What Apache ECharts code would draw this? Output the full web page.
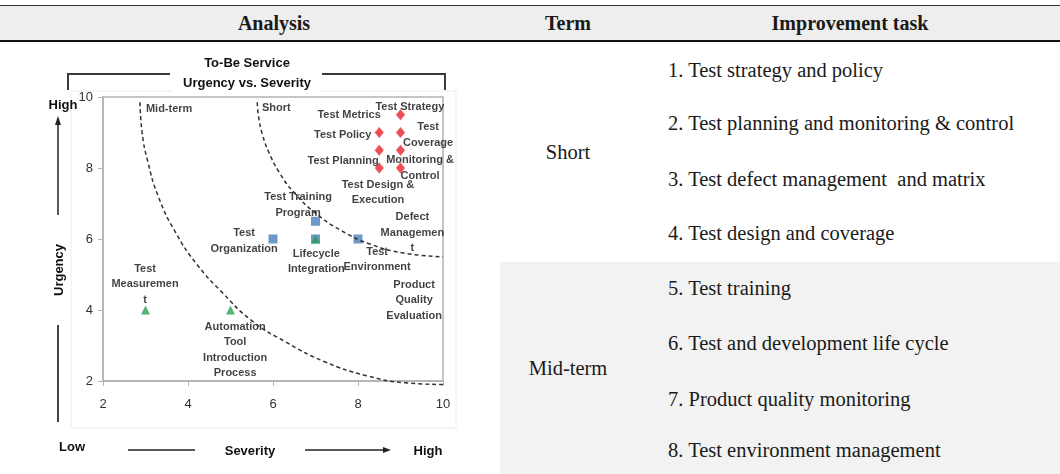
<!DOCTYPE html>
<html>
<head>
<meta charset="utf-8">
<script src="https://cdn.jsdelivr.net/npm/echarts@6/dist/echarts.min.js"></script>
<style>
  body { margin: 0; width: 1060px; height: 474px; position: relative; overflow: hidden; background: #fff; font-family: "Liberation Serif", serif; color: #1a1a1a; }
  .head { position: absolute; left: 0; top: 5px; width: 1060px; height: 34px; background: #eeeeee; border-top: 1px solid #333; border-bottom: 2px solid #111; }
  .head span { position: absolute; top: 0; line-height: 34px; font-weight: bold; font-size: 20px; transform: translateX(-50%); white-space: nowrap; }
  .band { position: absolute; left: 500px; top: 262px; width: 560px; height: 212px; background: #f2f2f2; }
  .term { position: absolute; width: 120px; left: 508px; text-align: center; font-size: 20.5px; line-height: 24px; margin-top: -12px; }
  .task { position: absolute; left: 668px; font-size: 20.5px; line-height: 24px; margin-top: -12px; white-space: nowrap; }
  #chart { position: absolute; left: 0; top: 0; width: 460px; height: 474px; }
</style>
</head>
<body>
<div class="head" id="head"></div>
<div class="band"></div>
<div id="table"></div>
<div id="chart"></div>
<script>
// table text
const headers = ['Analysis', 'Term', 'Improvement task']
const terms = ['Short', 'Mid-term']
const shortTasks = [
  '1. Test strategy and policy',
  '2. Test planning and monitoring & control',
  '3. Test defect management\u00a0 and matrix',
  '4. Test design and coverage'
]
const midTasks = [
  '5. Test training',
  '6. Test and development life cycle',
  '7. Product quality monitoring',
  '8. Test environment management'
]

// chart data: [severity, urgency]
const shortPoints = [[9, 9.5], [8.5, 9], [9, 9], [8.5, 8.5], [9, 8.5], [8.5, 8], [9, 8]]
const midPoints = [[6, 6], [7, 6.5], [7, 6], [8, 6]]
const lowPoints = [[3, 4], [5, 4], [7, 6]]
// dashed boundary curves
const midCurve = [[2.87, 9.85], [2.92, 9.0], [3.05, 8.2], [3.3, 7.2], [3.7, 6.2], [4.2, 5.3], [4.8, 4.5], [5.5, 3.7], [6.3, 3.1], [7.2, 2.55], [8.2, 2.15], [9.1, 1.95], [10, 1.9]]
const shortCurve = [[5.63, 9.85], [5.66, 9.45], [5.75, 8.95], [5.9, 8.45], [6.15, 7.87], [6.5, 7.3], [7.0, 6.73], [7.6, 6.24], [8.3, 5.85], [9.1, 5.6], [10, 5.5]]
// item names and where their text sits
const itemNames = [
  'Test Strategy', 'Test Metrics', 'Test Policy', 'Test\nCoverage', 'Monitoring &\nControl',
  'Test Planning', 'Test Design &\nExecution', 'Test Training\nProgram', 'Test\nOrganization',
  'Lifecycle\nIntegration', 'Test\nEnvironment', 'Defect\nManagemen\nt', 'Product\nQuality\nEvaluation',
  'Test\nMeasuremen\nt', 'Automation\nTool\nIntroduction\nProcess'
]
const itemSpots = [
  [9.22, 9.72], [7.79, 9.49], [7.64, 8.93], [9.65, 8.93], [9.46, 8.0],
  [7.65, 8.2], [8.47, 7.31], [6.59, 6.96], [5.32, 5.94],
  [7.02, 5.37], [8.45, 5.42], [9.28, 6.17], [9.32, 4.28],
  [2.99, 4.73], [5.11, 2.87]
]
const zoneNames = ['Mid-term', 'Short']
const zoneSpots = [[3.01, 9.66], [5.74, 9.69]]

// table
document.getElementById('head').innerHTML =
  '<span style="left:274px">' + headers[0] + '</span>' +
  '<span style="left:568px">' + headers[1] + '</span>' +
  '<span style="left:850px">' + headers[2] + '</span>'
const rowY = [70, 123, 179, 233, 288, 343, 399, 450]
let html = ''
html += '<div class="term" style="top:152px">' + terms[0] + '</div>'
html += '<div class="term" style="top:368px">' + terms[1] + '</div>'
shortTasks.concat(midTasks).forEach((t, i) => {
  html += '<div class="task" style="top:' + rowY[i] + 'px">' + t + '</div>'
})
document.getElementById('table').innerHTML = html

const myChart = echarts.init(document.getElementById('chart'))
const sans = '"Liberation Sans", Arial, sans-serif'
const ink = '#111'

myChart.setOption({
  animation: false,
  textStyle: { fontFamily: sans },
  grid: {
    show: true,
    left: 103,
    top: 97,
    width: 340,
    height: 284,
    borderColor: '#b3b3b3',
    borderWidth: 1.5
  },
  xAxis: {
    type: 'value',
    min: 2,
    max: 10,
    interval: 2,
    axisLine: { show: true, lineStyle: { color: '#b3b3b3', width: 1.5 } },
    axisTick: { show: true, length: 5, lineStyle: { color: '#b3b3b3' } },
    axisLabel: { margin: 17, fontSize: 13, color: '#333' },
    splitLine: { show: false }
  },
  yAxis: {
    type: 'value',
    min: 2,
    max: 10,
    interval: 2,
    axisLine: { show: true, lineStyle: { color: '#b3b3b3', width: 1.5 } },
    axisTick: { show: true, length: 5, lineStyle: { color: '#b3b3b3' } },
    axisLabel: { margin: 10, fontSize: 13, color: '#333' },
    splitLine: { show: false }
  },
  series: [
    {
      type: 'line',
      data: midCurve,
      smooth: true,
      showSymbol: false,
      clip: false,
      silent: true,
      lineStyle: { color: '#333', width: 1.5, type: [4, 3] }
    },
    {
      type: 'line',
      data: shortCurve,
      smooth: true,
      showSymbol: false,
      clip: false,
      silent: true,
      lineStyle: { color: '#333', width: 1.5, type: [4, 3] }
    },
    {
      type: 'scatter',
      data: shortPoints,
      symbol: 'diamond',
      symbolSize: [9, 11],
      itemStyle: { color: '#e8202a', borderColor: '#f6a0a0', borderWidth: 0.5 }
    },
    {
      type: 'scatter',
      data: midPoints,
      symbol: 'rect',
      symbolSize: 9,
      itemStyle: { color: '#4a7ebb' }
    },
    {
      type: 'scatter',
      data: lowPoints,
      symbol: 'triangle',
      symbolSize: 9,
      itemStyle: { color: '#25a04f' }
    },
    {
      // item names
      type: 'scatter',
      silent: true,
      symbolSize: 0,
      clip: false,
      data: itemSpots.map((p, i) => ({ value: p, name: itemNames[i] })),
      label: {
        show: true,
        position: 'inside',
        formatter: (p) => p.name,
        fontSize: 11,
        fontWeight: 'bold',
        lineHeight: 15.5,
        color: '#111',
        align: 'center',
        verticalAlign: 'middle'
      }
    },
    {
      // zone names
      type: 'scatter',
      silent: true,
      symbolSize: 0,
      data: zoneSpots.map((p, i) => ({ value: p, name: zoneNames[i] })),
      label: {
        show: true,
        position: 'inside',
        formatter: (p) => p.name,
        fontSize: 11,
        fontWeight: 'bold',
        color: '#111',
        align: 'left',
        verticalAlign: 'middle'
      }
    }
  ],
  graphic: [
    // faint chart area frame
    { type: 'rect', shape: { x: 71, y: 91, width: 385, height: 337 }, style: { fill: 'none', stroke: '#ececec', lineWidth: 1 }, silent: true },
    // title and bracket
    { type: 'text', x: 247, y: 63, style: { text: 'To-Be Service', font: 'bold 13px ' + sans, fill: ink, align: 'center', verticalAlign: 'middle' } },
    { type: 'rect', shape: { x: 172, y: 76, width: 148, height: 16 }, style: { fill: '#fff' }, silent: true },
    { type: 'text', x: 247, y: 83, style: { text: 'Urgency vs. Severity', font: 'bold 13px ' + sans, fill: ink, align: 'center', verticalAlign: 'middle' } },
    { type: 'polyline', shape: { points: [[68, 90], [68, 74], [170, 74]] }, style: { stroke: '#3a3a3a', lineWidth: 2, fill: 'none' } },
    { type: 'polyline', shape: { points: [[322, 74], [445, 74], [445, 90]] }, style: { stroke: '#3a3a3a', lineWidth: 2, fill: 'none' } },
    // urgency arrow
    { type: 'text', x: 63, y: 105, style: { text: 'High', font: 'bold 13px ' + sans, fill: ink, align: 'center', verticalAlign: 'middle' } },
    { type: 'polyline', shape: { points: [[58, 215], [58, 123]] }, style: { stroke: '#222', lineWidth: 1.5, fill: 'none' } },
    { type: 'polygon', shape: { points: [[55, 125], [58, 116], [61, 125]] }, style: { fill: '#222' } },
    { type: 'text', x: 59, y: 270, rotation: Math.PI / 2, style: { text: 'Urgency', font: 'bold 13px ' + sans, fill: ink, align: 'center', verticalAlign: 'middle' } },
    { type: 'polyline', shape: { points: [[58, 325], [58, 422]] }, style: { stroke: '#444', lineWidth: 2, fill: 'none' } },
    // severity arrow
    { type: 'text', x: 72, y: 447, style: { text: 'Low', font: 'bold 13px ' + sans, fill: ink, align: 'center', verticalAlign: 'middle' } },
    { type: 'polyline', shape: { points: [[128, 450], [195, 450]] }, style: { stroke: '#222', lineWidth: 1.5, fill: 'none' } },
    { type: 'text', x: 250, y: 451, style: { text: 'Severity', font: 'bold 13px ' + sans, fill: ink, align: 'center', verticalAlign: 'middle' } },
    { type: 'polyline', shape: { points: [[305, 450], [385, 450]] }, style: { stroke: '#222', lineWidth: 1.5, fill: 'none' } },
    { type: 'polygon', shape: { points: [[383, 447], [391, 450], [383, 453]] }, style: { fill: '#222' } },
    { type: 'text', x: 428, y: 451, style: { text: 'High', font: 'bold 13px ' + sans, fill: ink, align: 'center', verticalAlign: 'middle' } }
  ]
})
</script>
</body>
</html>
